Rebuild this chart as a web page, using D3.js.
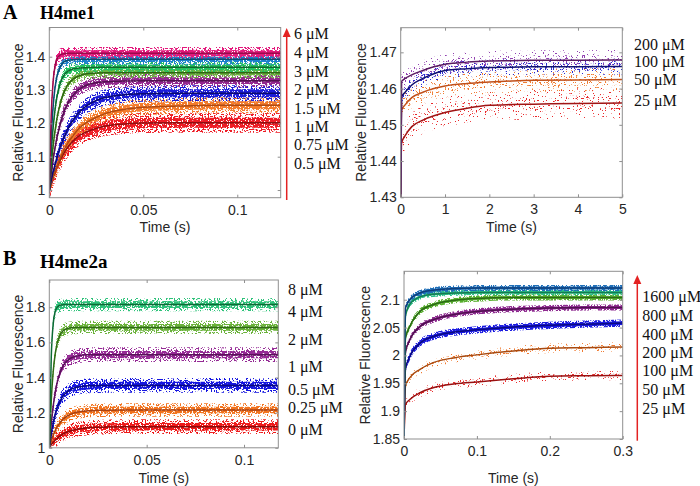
<!DOCTYPE html>
<html><head><meta charset="utf-8">
<script src="https://cdn.jsdelivr.net/npm/d3@7"></script>
<style>body{margin:0;background:#fff}svg{display:block}</style>
</head><body>
<svg id="c" width="700" height="486"></svg>
<script>
// ================= DATA =================
// Panel A (left): H4me1 stopped-flow traces, fitted values
const a1Time = [0, .001, .002, .003, .004, .006, .008, .010, .013, .016, .020, .025, .030, .040, .050, .070, .090, .110, .123];
const a1Magenta = [1.000,1.221,1.323,1.370,1.392,1.406,1.409,1.410,1.410,1.410,1.410,1.410,1.410,1.410,1.410,1.410,1.410,1.410,1.410];
const a1Teal    = [1.000,1.154,1.248,1.305,1.339,1.372,1.385,1.389,1.391,1.392,1.392,1.392,1.392,1.392,1.392,1.392,1.392,1.392,1.392];
const a1Green   = [1.000,1.109,1.185,1.239,1.277,1.323,1.346,1.357,1.364,1.366,1.367,1.368,1.368,1.368,1.368,1.368,1.368,1.368,1.368];
const a1Olive   = [1.000,1.072,1.130,1.175,1.212,1.263,1.296,1.317,1.334,1.343,1.349,1.351,1.352,1.352,1.352,1.352,1.352,1.352,1.352];
const a1Purple  = [1.000,1.049,1.090,1.125,1.155,1.202,1.237,1.262,1.287,1.303,1.315,1.322,1.325,1.327,1.328,1.328,1.328,1.328,1.328];
const a1Blue    = [1.000,1.028,1.053,1.076,1.097,1.132,1.161,1.185,1.213,1.234,1.253,1.269,1.278,1.286,1.289,1.290,1.290,1.290,1.290];
const a1Orange  = [1.000,1.020,1.038,1.055,1.070,1.098,1.122,1.142,1.166,1.186,1.203,1.218,1.230,1.242,1.248,1.252,1.254,1.254,1.254];
const a1Red     = [1.000,1.019,1.037,1.053,1.068,1.092,1.113,1.130,1.149,1.163,1.175,1.185,1.192,1.198,1.201,1.202,1.202,1.202,1.202];
const a1Labels  = ["6 μM","4 μM","3 μM","2 μM","1.5 μM","1 μM","0.75 μM","0.5 μM"];
const a1XTicks = [0, 0.05, 0.1];
const a1XTickLabels = ["0", "0.05", "0.1"];
const a1YTicks = [1, 1.1, 1.2, 1.3, 1.4];
const a1YTickLabels = ["1", "1.1", "1.2", "1.3", "1.4"];

// Panel A (right): H4me1 high concentrations
const a2Time = [0, 0.02, 0.1, 0.25, 0.5, 0.75, 1, 1.5, 2, 2.5, 3, 4, 5];
const a2Purple = [1.430,1.4620,1.4628,1.4638,1.4650,1.4660,1.4667,1.4673,1.4676,1.4677,1.4678,1.4678,1.4679];
const a2Blue   = [1.430,1.4577,1.4590,1.4610,1.4628,1.4641,1.4650,1.4655,1.4658,1.4659,1.4660,1.4660,1.4661];
const a2Orange = [1.430,1.4540,1.4555,1.4575,1.4590,1.4600,1.4607,1.4614,1.4618,1.4621,1.4623,1.4624,1.4625];
const a2Red    = [1.430,1.4450,1.4470,1.4495,1.4513,1.4525,1.4534,1.4546,1.4554,1.4556,1.4557,1.4559,1.4560];
const a2Labels = ["200 μM","100 μM","50 μM","25 μM"];
const a2XTicks = [0, 1, 2, 3, 4, 5];
const a2XTickLabels = ["0", "1", "2", "3", "4", "5"];
const a2YTicks = [1.43, 1.44, 1.45, 1.46, 1.47];
const a2YTickLabels = ["1.43", "1.44", "1.45", "1.46", "1.47"];

// Panel B (left): H4me2a
const b1Time = [0, .001, .002, .003, .004, .006, .008, .010, .013, .016, .020, .025, .030, .040, .060, .090, .118];
const b1Green  = [1.000,1.515,1.705,1.774,1.800,1.813,1.815,1.815,1.815,1.815,1.815,1.815,1.815,1.815,1.815,1.815,1.815];
const b1Olive  = [1.000,1.269,1.433,1.532,1.593,1.651,1.673,1.680,1.684,1.685,1.685,1.685,1.685,1.685,1.685,1.685,1.685];
const b1Purple = [1.000,1.137,1.237,1.313,1.370,1.442,1.481,1.503,1.519,1.526,1.529,1.530,1.530,1.530,1.530,1.530,1.530];
const b1Blue   = [1.000,1.079,1.140,1.187,1.225,1.276,1.307,1.326,1.341,1.348,1.353,1.354,1.355,1.355,1.355,1.355,1.355];
const b1Orange = [1.000,1.039,1.072,1.097,1.118,1.150,1.172,1.186,1.199,1.206,1.211,1.213,1.214,1.215,1.215,1.215,1.215];
const b1Red    = [1.000,1.017,1.031,1.043,1.054,1.071,1.084,1.093,1.103,1.109,1.114,1.117,1.119,1.120,1.120,1.120,1.120];
const b1Labels = ["8 μM","4 μM","2 μM","1 μM","0.5 μM","0.25 μM","0 μM"];
const b1XTicks = [0, 0.05, 0.1];
const b1XTickLabels = ["0", "0.05", "0.1"];
const b1YTicks = [1, 1.2, 1.4, 1.6, 1.8];
const b1YTickLabels = ["1", "1.2", "1.4", "1.6", "1.8"];

// Panel B (right): H4me2a high concentrations
const b2Time = [0, 0.002, 0.008, 0.022, 0.04, 0.07, 0.1, 0.15, 0.2, 0.25, 0.3];
const b2Steel  = [1.85,2.085,2.100,2.112,2.117,2.120,2.121,2.121,2.121,2.121,2.121];
const b2Teal   = [1.85,2.070,2.092,2.105,2.110,2.112,2.113,2.113,2.113,2.113,2.113];
const b2Green  = [1.85,2.030,2.052,2.079,2.091,2.099,2.102,2.104,2.104,2.104,2.104];
const b2Purple = [1.85,2.005,2.028,2.052,2.064,2.074,2.079,2.083,2.085,2.086,2.086];
const b2Blue   = [1.85,1.975,1.998,2.022,2.034,2.042,2.046,2.051,2.054,2.056,2.058];
const b2Orange = [1.85,1.945,1.960,1.975,1.987,1.996,2.001,2.008,2.013,2.014,2.015];
const b2Red    = [1.85,1.912,1.921,1.933,1.942,1.949,1.9525,1.958,1.9627,1.9635,1.964];
const b2Labels = ["1600 μM","800 μM","400 μM","200 μM","100 μM","50 μM","25 μM"];
const b2XTicks = [0, 0.1, 0.2, 0.3];
const b2XTickLabels = ["0", "0.1", "0.2", "0.3"];
const b2YTicks = [1.85, 1.9, 1.95, 2, 2.05, 2.1];
const b2YTickLabels = ["1.85", "1.9", "1.95", "2", "2.05", "2.1"];

const xTitle = "Time (s)";
const yTitle = "Relative Fluorescence";

// ================= STYLE / LAYOUT =================
const svg = d3.select("#c");
const defs = svg.append("defs");
let filterCount = 0;
function speckFilter(thr) {
  const id = "spk" + (filterCount++);
  const f = defs.append("filter").attr("id", id)
    .attr("filterUnits", "userSpaceOnUse")
    .attr("x", 0).attr("y", 0).attr("width", 700).attr("height", 486)
    .attr("color-interpolation-filters", "sRGB");
  f.append("feTurbulence").attr("type", "fractalNoise")
    .attr("baseFrequency", 0.62).attr("numOctaves", 2)
    .attr("seed", 7 + filterCount * 13).attr("result", "n");
  const K = 22;
  f.append("feColorMatrix").attr("in", "n").attr("type", "matrix")
    .attr("values", `0 0 0 0 0  0 0 0 0 0  0 0 0 0 0  ${K} 0 0 0 ${-K * thr}`)
    .attr("result", "m");
  f.append("feComposite").attr("in", "SourceGraphic").attr("in2", "m").attr("operator", "in");
  return id;
}

const panels = [
  { id: "a1", time: a1Time, left: 49.3, right: 280.7, top: 27.5, bottom: 197.7,
    xDomain: [0, 0.1231], yDomain: [0.977, 1.4876],
    xTicks: a1XTicks, xTickLabels: a1XTickLabels, yTicks: a1YTicks, yTickLabels: a1YTickLabels,
    yTitleX: 17.5, xTitleY: 232,
    series: [
      { v: a1Red,     c: "#ee1c25", f: "#8e0f10", s: 0.03,  dense: 0.40, sparse: 0.53 },
      { v: a1Orange,  c: "#f47c2c", f: "#b04a12", s: 0.024, dense: 0.40, sparse: 0.53 },
      { v: a1Blue,    c: "#1c1cd8", f: "#0a0a70", s: 0.024, dense: 0.40, sparse: 0.53 },
      { v: a1Purple,  c: "#93278f", f: "#521050", s: 0.02,  dense: 0.40, sparse: 0.53 },
      { v: a1Olive,   c: "#6db33f", f: "#2e6512", s: 0.017, dense: 0.40, sparse: 0.53 },
      { v: a1Green,   c: "#22c060", f: "#0c6a2c", s: 0.017, dense: 0.40, sparse: 0.53 },
      { v: a1Teal,    c: "#1c80cc", f: "#0b4d72", s: 0.016, dense: 0.40, sparse: 0.53 },
      { v: a1Magenta, c: "#e3197c", f: "#980a4a", s: 0.019, dense: 0.38, sparse: 0.52 }
    ],
    labels: a1Labels, labelX: 294, labelY: [33, 52, 71, 89, 108, 126, 144, 163],
    labelSize: 16, arrow: { x: 286.7, y0: 200, y1: 28 } },
  { id: "a2", time: a2Time, left: 400.7, right: 622.3, top: 27.7, bottom: 197.3,
    xDomain: [0, 5], yDomain: [1.43, 1.4768],
    xTicks: a2XTicks, xTickLabels: a2XTickLabels, yTicks: a2YTicks, yTickLabels: a2YTickLabels,
    yTitleX: 361, xTitleY: 232,
    series: [
      { v: a2Red,    c: "#e8282a", f: "#a01515", s: 0.0042, dense: 0.66, sparse: 0.69 },
      { v: a2Orange, c: "#f07b30", f: "#c0501a", s: 0.0032, dense: 0.64, sparse: 0.68 },
      { v: a2Blue,   c: "#2a2ad0", f: "#101070", s: 0.0022, dense: 0.60, sparse: 0.67 },
      { v: a2Purple, c: "#9040b0", f: "#5a1a60", s: 0.0028, dense: 0.64, sparse: 0.68 }
    ],
    labels: a2Labels, labelX: 634, labelY: [44.5, 61.5, 79, 100], labelSize: 16, arrow: null },
  { id: "b1", time: b1Time, left: 49.3, right: 278.3, top: 280, bottom: 447.8,
    xDomain: [0, 0.1176], yDomain: [1, 1.955],
    xTicks: b1XTicks, xTickLabels: b1XTickLabels, yTicks: b1YTicks, yTickLabels: b1YTickLabels,
    yTitleX: 18, xTitleY: 483,
    series: [
      { v: b1Red,    c: "#ee1a1a", f: "#8b0a0a", s: 0.042, dense: 0.42, sparse: 0.55 },
      { v: b1Orange, c: "#f2731e", f: "#a84010", s: 0.038, dense: 0.42, sparse: 0.55 },
      { v: b1Blue,   c: "#1515e0", f: "#0a0a80", s: 0.042, dense: 0.42, sparse: 0.55 },
      { v: b1Purple, c: "#952a95", f: "#5a105a", s: 0.042, dense: 0.42, sparse: 0.55 },
      { v: b1Olive,  c: "#6ab23a", f: "#2f6a15", s: 0.038, dense: 0.42, sparse: 0.55 },
      { v: b1Green,  c: "#2ec27a", f: "#0d6a35", s: 0.038, dense: 0.42, sparse: 0.55 }
    ],
    labels: b1Labels, labelX: 288, labelY: [289.3, 311.7, 339, 366, 389.3, 407.7, 429.3],
    labelSize: 16, arrow: null },
  { id: "b2", time: b2Time, left: 404, right: 622.7, top: 271.3, bottom: 439,
    xDomain: [0, 0.3], yDomain: [1.85, 2.151],
    xTicks: b2XTicks, xTickLabels: b2XTickLabels, yTicks: b2YTicks, yTickLabels: b2YTickLabels,
    yTitleX: 365, xTitleY: 483,
    series: [
      { v: b2Red,    c: "#e83030", f: "#9a1010", s: 0.0085, dense: 0.62, sparse: 0.67 },
      { v: b2Orange, c: "#f07a30", f: "#a84a10", s: 0.0085, dense: 0.62, sparse: 0.67 },
      { v: b2Blue,   c: "#1a1ae0", f: "#0a0a80", s: 0.0065, dense: 0.22, sparse: 0.47 },
      { v: b2Purple, c: "#8e2a90", f: "#501050", s: 0.0055, dense: 0.22, sparse: 0.47 },
      { v: b2Green,  c: "#5ab030", f: "#2a6a15", s: 0.0055, dense: 0.22, sparse: 0.47 },
      { v: b2Teal,   c: "#2cc08a", f: "#147a50", s: 0.005,  dense: 0.22, sparse: 0.47 },
      { v: b2Steel,  c: "#1f6fb8", f: "#0e3e7a", s: 0.0055, dense: 0.22, sparse: 0.47 }
    ],
    labels: b2Labels, labelX: 642.3, labelY: [296.7, 315, 334, 352.7, 370.7, 389.3, 408.3],
    labelSize: 16, arrow: { x: 637.3, y0: 440.7, y1: 275 } }
];

const frameColor = "#8f8f8f";
const tickTextColor = "#262626";
const sansFont = "'Liberation Sans', Arial, sans-serif";
const serifFont = "'Liberation Serif', 'Times New Roman', serif";
const axisFontSize = "14px";

function drawPanel(p) {
  const x = d3.scaleLinear().domain(p.xDomain).range([p.left, p.right]);
  const y = d3.scaleLinear().domain(p.yDomain).range([p.bottom, p.top]);
  const g = svg.append("g");
  const clipId = "clip-" + p.id;
  defs.append("clipPath").attr("id", clipId).append("rect")
    .attr("x", p.left).attr("y", p.top)
    .attr("width", p.right - p.left).attr("height", p.bottom - p.top);
  const plot = g.append("g").attr("clip-path", `url(#${clipId})`);

  p.series.forEach(s => {
    const rows = p.time.map((t, i) => ({ t, v: s.v[i] }));
    const band = k => d3.area()
      .x(d => x(d.t))
      .y0(d => y(d.v - s.s * k))
      .y1(d => y(d.v + s.s * k))
      .curve(d3.curveMonotoneX)(rows);
    plot.append("path").attr("d", band(1)).attr("fill", s.c)
      .attr("filter", `url(#${speckFilter(s.sparse)})`);
    plot.append("path").attr("d", band(0.5)).attr("fill", s.c)
      .attr("filter", `url(#${speckFilter(s.dense)})`);
  });
  p.series.forEach(s => {
    const rows = p.time.map((t, i) => ({ t, v: s.v[i] }));
    plot.append("path")
      .attr("d", d3.line().x(d => x(d.t)).y(d => y(d.v)).curve(d3.curveMonotoneX)(rows))
      .attr("fill", "none").attr("stroke", s.f).attr("stroke-width", 1.5);
  });

  // axes (MATLAB style: inward ticks on all sides)
  const axes = [
    { ax: d3.axisBottom(x).tickValues(p.xTicks).tickFormat((d, i) => p.xTickLabels[i]).tickSize(-3).tickPadding(7), tr: `translate(0,${p.bottom})` },
    { ax: d3.axisTop(x).tickValues(p.xTicks).tickFormat("").tickSize(-3), tr: `translate(0,${p.top})` },
    { ax: d3.axisLeft(y).tickValues(p.yTicks).tickFormat((d, i) => p.yTickLabels[i]).tickSize(-3).tickPadding(4), tr: `translate(${p.left},0)` },
    { ax: d3.axisRight(y).tickValues(p.yTicks).tickFormat("").tickSize(-3), tr: `translate(${p.right},0)` }
  ];
  axes.forEach(a => {
    const ag = g.append("g").attr("transform", a.tr).call(a.ax);
    ag.select(".domain").remove();
    ag.selectAll(".tick line").attr("stroke", frameColor);
    ag.selectAll(".tick text").attr("fill", tickTextColor)
      .style("font-family", sansFont).style("font-size", axisFontSize);
  });
  g.append("rect").attr("x", p.left).attr("y", p.top)
    .attr("width", p.right - p.left).attr("height", p.bottom - p.top)
    .attr("fill", "none").attr("stroke", frameColor).attr("stroke-width", 1);

  g.append("text").attr("x", (p.left + p.right) / 2).attr("y", p.xTitleY)
    .attr("text-anchor", "middle").attr("fill", tickTextColor)
    .style("font-family", sansFont).style("font-size", axisFontSize).text(xTitle);
  g.append("text")
    .attr("transform", `translate(${p.yTitleX},${(p.top + p.bottom) / 2}) rotate(-90)`)
    .attr("text-anchor", "middle").attr("dominant-baseline", "central").attr("fill", tickTextColor)
    .style("font-family", sansFont).style("font-size", axisFontSize).text(yTitle);

  // concentration labels
  p.labels.forEach((lab, i) => {
    g.append("text").attr("x", p.labelX).attr("y", p.labelY[i])
      .attr("dominant-baseline", "central").attr("fill", "#111")
      .style("font-family", serifFont).style("font-size", p.labelSize + "px").text(lab);
  });
  if (p.arrow) {
    const a = p.arrow;
    g.append("line").attr("x1", a.x).attr("x2", a.x).attr("y1", a.y0).attr("y2", a.y1 + 6)
      .attr("stroke", "#e32222").attr("stroke-width", 1.5);
    g.append("path").attr("d", `M${a.x},${a.y1} L${a.x - 4},${a.y1 + 9} L${a.x + 4},${a.y1 + 9} Z`)
      .attr("fill", "#e32222");
  }
}

panels.forEach(drawPanel);

// panel headings
const heads = [
  { t: "A", x: 3, y: 18.5, size: 20 }, { t: "H4me1", x: 40, y: 18.5, size: 18 },
  { t: "B", x: 3, y: 265, size: 20 }, { t: "H4me2a", x: 40, y: 268, size: 19 }
];
heads.forEach(h => svg.append("text").attr("x", h.x).attr("y", h.y)
  .style("font-family", serifFont).style("font-weight", "bold")
  .style("font-size", h.size + "px").attr("fill", "#000").text(h.t));
</script>
</body></html>
